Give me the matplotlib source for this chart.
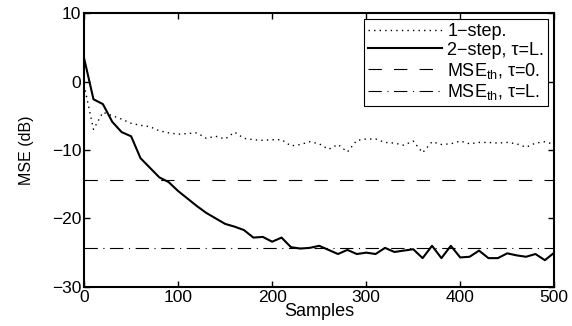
import matplotlib
matplotlib.use("Agg")
import matplotlib.pyplot as plt
import numpy as np

# sample positions (every 10 samples)
samples = np.arange(0, 501, 10)

# 1-step MSE (dB)
mse_1step = [-0.5, -7.0, -4.5, -5.0, -5.5, -6.1, -6.4, -6.6, -7.2, -7.5,
             -7.7, -7.6, -7.5, -8.3, -8.0, -8.4, -7.4, -8.3, -8.5, -8.6,
             -8.5, -8.5, -9.4, -9.2, -8.8, -9.1, -9.9, -9.2, -10.3, -8.6,
             -8.4, -8.4, -8.9, -9.0, -9.3, -8.7, -10.4, -8.8, -9.2, -9.1,
             -8.7, -9.1, -8.9, -8.9, -9.0, -8.9, -9.1, -9.6, -9.0, -8.8,
             -9.2]

# 2-step MSE (dB), tau = L
mse_2step = [3.4, -2.6, -3.3, -5.9, -7.4, -8.0, -11.2, -12.6, -14.0, -14.7,
             -16.0, -17.1, -18.2, -19.2, -20.0, -20.8, -21.2, -21.7, -22.8, -22.7,
             -23.4, -22.8, -24.2, -24.4, -24.3, -24.0, -24.6, -25.2, -24.6, -25.2,
             -25.0, -25.2, -24.3, -24.9, -24.7, -24.5, -25.8, -24.0, -25.8, -24.0,
             -25.7, -25.6, -24.7, -25.8, -25.8, -25.1, -25.4, -25.6, -25.2, -26.1,
             -25.0]

# theoretical levels
mse_th_tau0 = -14.4
mse_th_tauL = -24.3

labels = ["1\u2212step.", "2\u2212step, \u03c4=L.",
          "MSE$_{\\mathrm{th}}$, \u03c4=0.", "MSE$_{\\mathrm{th}}$, \u03c4=L."]

plt.rcParams["font.family"] = ["Liberation Sans", "DejaVu Sans"]
plt.rcParams["mathtext.fontset"] = "custom"
plt.rcParams["mathtext.rm"] = "Liberation Sans"
plt.rcParams["mathtext.it"] = "Liberation Sans:italic"

fig = plt.figure(figsize=(5.72, 3.26), dpi=100)
ax = fig.add_axes([0.147, 0.120, 0.822, 0.840])

ax.plot(samples, mse_1step, color="black", linestyle=(0, (1, 3)), linewidth=1.0, label=labels[0])
ax.plot(samples, mse_2step, color="black", linestyle="-", linewidth=1.5, label=labels[1])
ax.axhline(mse_th_tau0, color="black", linestyle=(0, (12, 11)), linewidth=0.8, label=labels[2])
ax.axhline(mse_th_tauL, color="black", linestyle=(0, (12, 5, 1, 5)), linewidth=0.8, label=labels[3])

ax.set_xlim(0, 500)
ax.set_ylim(-30, 10)
ax.set_xticks(range(0, 501, 100))
ax.set_yticks(range(-30, 11, 10))
ax.set_yticklabels([str(v).replace("-", "\u2212") for v in range(-30, 11, 10)])

ax.tick_params(direction="in", top=True, right=True, labelsize=12.5, length=4, width=1, pad=2)
for s in ax.spines.values():
    s.set_linewidth(1.5)

ax.set_xlabel("Samples", fontsize=13, labelpad=-1)
ax.set_ylabel("MSE (dB)", fontsize=11.5, labelpad=13)

leg = ax.legend(loc="upper right", fontsize=13, handlelength=4.1, handletextpad=0.3,
                borderpad=0.2, labelspacing=0.1, fancybox=False, framealpha=1,
                edgecolor="black", borderaxespad=0.35)
leg.get_frame().set_linewidth(0.8)

fig.savefig("out.png", dpi=100)
